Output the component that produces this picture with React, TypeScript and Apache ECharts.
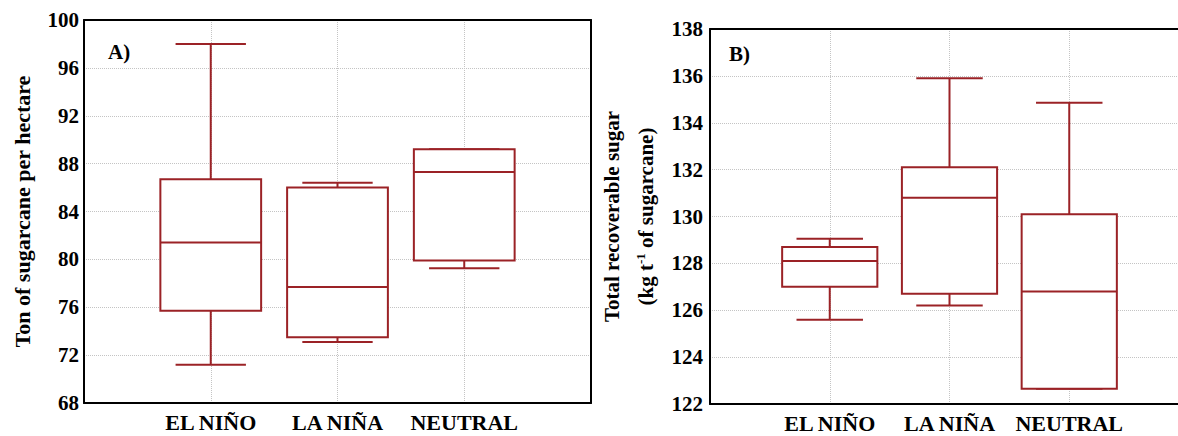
import React, { useEffect, useRef } from "react";
import * as echarts from "echarts";

// Categories, placed at positions 1..3 on an x range of 0..4
const groups = ["EL NIÑO", "LA NIÑA", "NEUTRAL"];

// Panel A: Ton of sugarcane per hectare  [min, q1, median, q3, max]
const yieldLow = [71.2, 73.1, 79.25];
const yieldQ1 = [75.7, 73.5, 79.9];
const yieldMedian = [81.4, 77.7, 87.3];
const yieldQ3 = [86.7, 86.0, 89.2];
const yieldHigh = [98.0, 86.4, 89.2];

// Panel B: Total recoverable sugar (kg t-1 of sugarcane)
const sugarLow = [125.6, 126.2, 122.65];
const sugarQ1 = [127.0, 126.7, 122.65];
const sugarMedian = [128.1, 130.8, 126.8];
const sugarQ3 = [128.7, 132.1, 130.1];
const sugarHigh = [129.05, 135.9, 134.85];

const yTicksA = { min: 68, max: 100, interval: 4 };
const yTicksB = { min: 122, max: 138, interval: 2 };

const BOX = "#9b2226";
const FONT = "'Liberation Serif', 'Times New Roman', serif";

function rows(lo: number[], q1: number[], md: number[], q3: number[], hi: number[]) {
  return groups.map((g, i) => [i + 1, lo[i], q1[i], md[i], q3[i], hi[i]]);
}

function renderBox(params: any, api: any) {
  const x = api.value(0);
  const lo = api.coord([x, api.value(1)]);
  const q1 = api.coord([x, api.value(2)]);
  const md = api.coord([x, api.value(3)]);
  const q3 = api.coord([x, api.value(4)]);
  const hi = api.coord([x, api.value(5)]);
  const band = api.size([1, 0])[0];
  const bw = band * 0.795;
  const cw = band * 0.555;
  const cx = lo[0];
  const style = { stroke: BOX, lineWidth: 2, fill: "none" };
  return {
    type: "group",
    children: [
      { type: "line", shape: { x1: cx, y1: hi[1], x2: cx, y2: q3[1] }, style },
      { type: "line", shape: { x1: cx, y1: q1[1], x2: cx, y2: lo[1] }, style },
      { type: "line", shape: { x1: cx - cw / 2, y1: hi[1], x2: cx + cw / 2, y2: hi[1] }, style },
      { type: "line", shape: { x1: cx - cw / 2, y1: lo[1], x2: cx + cw / 2, y2: lo[1] }, style },
      {
        type: "rect",
        shape: { x: cx - bw / 2, y: q3[1], width: bw, height: q1[1] - q3[1] },
        style: { stroke: BOX, lineWidth: 2, fill: "#fff" },
      },
      { type: "line", shape: { x1: cx - bw / 2, y1: md[1], x2: cx + bw / 2, y2: md[1] }, style },
    ],
  };
}

const gridLine = { show: true, lineStyle: { color: "#c4c4c4", type: "dotted", width: 1 } };
const frame = { show: true, onZero: false, lineStyle: { color: "#000", width: 2 } };

export default function App() {
  const ref = useRef<HTMLDivElement>(null);
  useEffect(() => {
    document.body.style.margin = "0";
    const chart = echarts.init(ref.current!, undefined, { renderer: "svg" });
    const labelFmt = (v: number) => (Number.isInteger(v) && v >= 1 && v <= groups.length ? groups[v - 1] : "");
    const xBottom = (gridIndex: number) => ({
      type: "value",
      gridIndex,
      min: 0,
      max: 4,
      interval: 1,
      axisLine: frame,
      axisTick: { show: false },
      splitLine: gridLine,
      axisLabel: {
        color: "#000",
        fontFamily: FONT,
        fontWeight: "bold",
        fontSize: 22,
        margin: 8,
        formatter: labelFmt,
      },
    });
    const xTop = (gridIndex: number) => ({
      type: "value",
      gridIndex,
      position: "top",
      min: 0,
      max: 4,
      interval: 1,
      axisLine: frame,
      axisTick: { show: false },
      splitLine: { show: false },
      axisLabel: { show: false },
    });
    const yAxisBase = {
      type: "value",
      axisLine: frame,
      axisTick: { show: false },
      splitLine: gridLine,
      nameLocation: "middle",
      nameRotate: 90,
    };
    const yLabel = { color: "#000", fontFamily: FONT, fontWeight: "bold", fontSize: 21 };
    chart.setOption({
      animation: false,
      grid: [
        { left: 84, top: 20, width: 507, height: 383, outerBoundsMode: "none" },
        { left: 710, top: 29, width: 479, height: 375, outerBoundsMode: "none" },
      ],
      xAxis: [xBottom(0), xTop(0), xBottom(1), xTop(1)],
      yAxis: [
        {
          ...yAxisBase,
          gridIndex: 0,
          ...yTicksA,
          name: "Ton of sugarcane per hectare",
          nameGap: 51,
          nameTextStyle: { color: "#000", fontFamily: FONT, fontWeight: "bold", fontSize: 22 },
          axisLabel: { ...yLabel, margin: 5 },
        },
        {
          // right border of panel A
          type: "value",
          gridIndex: 0,
          position: "right",
          ...yTicksA,
          axisLine: frame,
          axisTick: { show: false },
          axisLabel: { show: false },
          splitLine: { show: false },
        },
        {
          ...yAxisBase,
          gridIndex: 1,
          ...yTicksB,
          name: "{n|Total recoverable sugar}\n{n|(kg t}{s|-1}{n| of sugarcane)}",
          nameGap: 47,
          nameTextStyle: {
            color: "#000",
            fontFamily: FONT,
            fontWeight: "bold",
            fontSize: 21,
            lineHeight: 34,
            rich: {
              n: { fontFamily: FONT, fontWeight: "bold", fontSize: 21, color: "#000", lineHeight: 34 },
              s: { fontFamily: FONT, fontWeight: "bold", fontSize: 13, color: "#000", verticalAlign: "middle", padding: [0, 0, 12, 0] },
            },
          },
          axisLabel: { ...yLabel, margin: 7 },
        },
      ],
      graphic: [
        { type: "text", left: 108, top: 41, style: { text: "A)", font: `bold 21px ${FONT}`, fill: "#000" } },
        { type: "text", left: 729, top: 43, style: { text: "B)", font: `bold 21px ${FONT}`, fill: "#000" } },
      ],
      series: [
        {
          type: "custom",
          xAxisIndex: 0,
          yAxisIndex: 0,
          encode: { x: 0, y: [1, 2, 3, 4, 5] },
          data: rows(yieldLow, yieldQ1, yieldMedian, yieldQ3, yieldHigh),
          renderItem: renderBox,
        },
        {
          type: "custom",
          xAxisIndex: 2,
          yAxisIndex: 2,
          encode: { x: 0, y: [1, 2, 3, 4, 5] },
          data: rows(sugarLow, sugarQ1, sugarMedian, sugarQ3, sugarHigh),
          renderItem: renderBox,
        },
      ],
    });
    return () => chart.dispose();
  }, []);
  return <div ref={ref} style={{ width: 1178, height: 436 }} />;
}
